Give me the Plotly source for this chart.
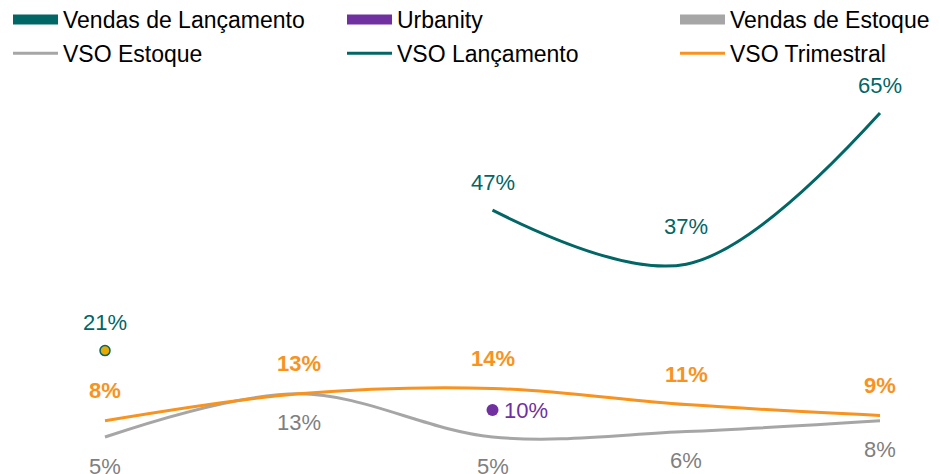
import plotly.graph_objects as go

# ---- data ----
categories = ["P1", "P2", "P3", "P4", "P5"]
vso_estoque = [5, 13, 5, 6, 8]
vso_lancamento = [21, None, 47, 37, 65]
vso_trimestral = [8, 13, 14, 11, 9]
urbanity = [None, None, 10, None, None]
vendas_lancamento = [None, None, None, None, None]
vendas_estoque = [None, None, None, None, None]

TEAL = "#006666"
PURPLE = "#7030A0"
GRAY = "#A6A6A6"
GRAY_TXT = "#7F7F7F"
ORANGE = "#F7931E"
GOLD = "#E6AA00"
FONT = "Liberation Sans, Arial, sans-serif"

# page body adds an 8px margin; figure is sized to fill the rest of the window
W, H = 932, 466
STEP = 193.75      # px between categories
X0 = 97            # px of first category
T, B = 78, 10
YMAX = 70

idx = list(range(len(categories)))

fig = go.Figure()

def lg(name, color, width, legend, group, y=None, **kw):
    return go.Scatter(x=idx, y=y if y is not None else [None] * len(idx), name=name,
                      mode="lines", legend=legend, legendgroup=group,
                      line=dict(color=color, width=width, **kw))

# column 1
fig.add_trace(lg("Vendas de Lançamento", TEAL, 13, "legend", "a", vendas_lancamento))
fig.add_trace(lg("VSO Estoque", GRAY, 3, "legend", "b", vso_estoque, shape="spline", smoothing=1.0))
# column 2
fig.add_trace(lg("Urbanity", PURPLE, 13, "legend2", "c"))
fig.add_trace(lg("VSO Lançamento", TEAL, 3, "legend2", "d", vso_lancamento, shape="spline", smoothing=1.0))
# column 3
fig.add_trace(lg("Vendas de Estoque", GRAY, 13, "legend3", "e", vendas_estoque))
fig.add_trace(lg("VSO Trimestral", ORANGE, 3, "legend3", "f", vso_trimestral, shape="spline", smoothing=1.0))

# isolated first point of VSO Lançamento
fig.add_trace(go.Scatter(x=[idx[0]], y=[vso_lancamento[0]], mode="markers", showlegend=False,
                         marker=dict(color=GOLD, size=10, line=dict(color=TEAL, width=1.5))))
# Urbanity point
fig.add_trace(go.Scatter(x=idx, y=urbanity, mode="markers", showlegend=False,
                         marker=dict(color=PURPLE, size=12)))

teal_shift = {3: 38}
ann = []
for i, v in enumerate(vso_estoque):
    ann.append(dict(x=i, y=v, text=f"{v}%", yshift=-29, showarrow=False,
                    font=dict(color=GRAY_TXT, size=22, family=FONT)))
for i, v in enumerate(vso_trimestral):
    ann.append(dict(x=i, y=v, text=f"<b>{v}%</b>", yshift=30, showarrow=False,
                    font=dict(color=ORANGE, size=22, family=FONT)))
for i, v in enumerate(vso_lancamento):
    if v is not None:
        ann.append(dict(x=i, y=v, text=f"{v}%", yshift=teal_shift.get(i, 28), showarrow=False,
                        font=dict(color=TEAL, size=22, family=FONT)))
for i, v in enumerate(urbanity):
    if v is not None:
        ann.append(dict(x=i, y=v, text=f"{v}%", xshift=9, xanchor="left", showarrow=False,
                        font=dict(color=PURPLE, size=22, family=FONT)))

leg_y = 1 + (T + 10) / (H - T - B)
def legend_cfg(xpx):
    return dict(orientation="v", x=xpx / W, xanchor="left", y=leg_y, yanchor="top",
                itemwidth=45, traceorder="grouped", tracegroupgap=1,
                font=dict(size=23, family=FONT, color="#000000"),
                bgcolor="rgba(0,0,0,0)")

fig.update_layout(
    width=W, height=H,
    margin=dict(l=0, r=0, t=T, b=B, autoexpand=False),
    paper_bgcolor="white", plot_bgcolor="white",
    font=dict(family=FONT, size=20, color="#000000"),
    xaxis=dict(range=[-X0 / STEP, (W - X0) / STEP], visible=False, showgrid=False, zeroline=False),
    yaxis=dict(range=[0, YMAX], visible=False, showgrid=False, zeroline=False),
    showlegend=True,
    legend=legend_cfg(0),
    legend2=legend_cfg(334),
    legend3=legend_cfg(667),
    annotations=ann,
)

fig.write_html("out.html")
